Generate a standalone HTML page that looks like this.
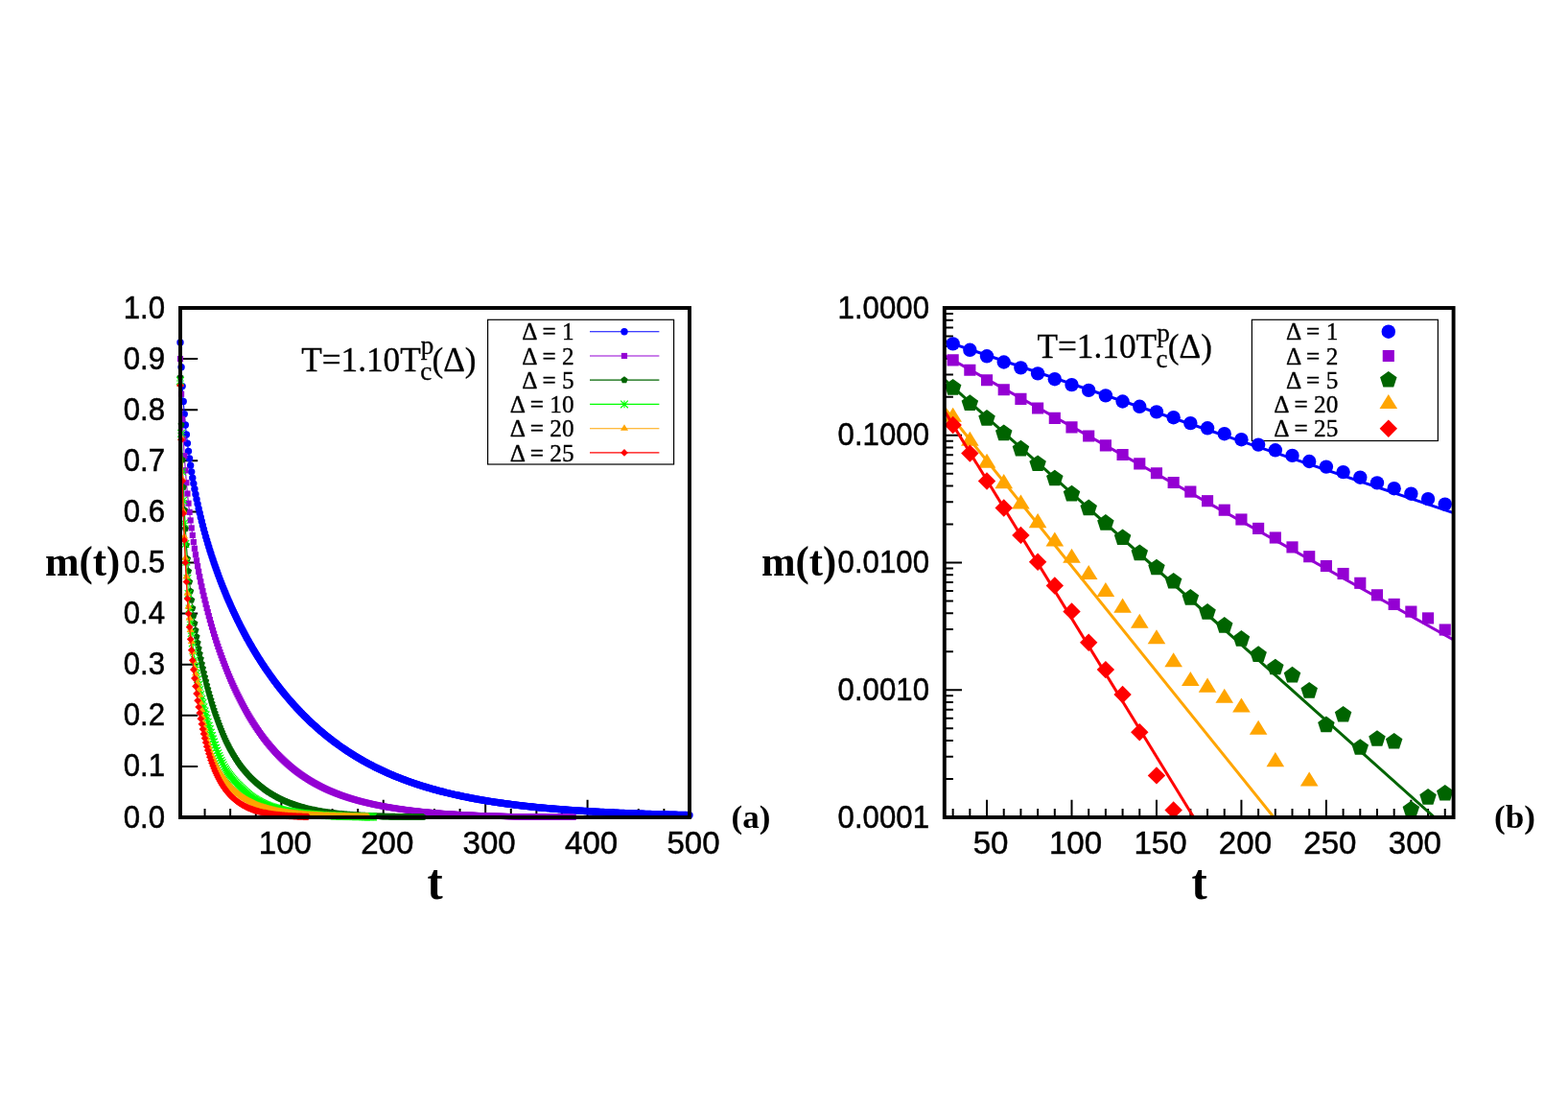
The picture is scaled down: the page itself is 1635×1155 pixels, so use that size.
<!DOCTYPE html>
<html lang="en"><head><meta charset="utf-8"><title>m(t) relaxation</title>
<style>
html,body{margin:0;padding:0;background:#fff;}
body{width:1635px;height:1155px;overflow:hidden;}
svg{display:block;}
.h{font-family:"Liberation Sans",sans-serif;}
.s{font-family:"Liberation Serif",serif;}
.sb{font-family:"Liberation Serif",serif;font-weight:bold;}
</style></head><body>
<svg width="1635" height="1155" viewBox="0 0 1635 1155">
<rect width="1635" height="1155" fill="#fff"/>
<defs>
<marker id="ab" markerUnits="userSpaceOnUse" markerWidth="14.36" markerHeight="14.36" viewBox="-7.18 -7.18 14.36 14.36" refX="0" refY="0" overflow="visible"><path d="M-3.7,0a3.7,3.7 0 1,0 7.4,0a3.7,3.7 0 1,0 -7.4,0z" fill="#0000ff"/></marker>
<marker id="ap" markerUnits="userSpaceOnUse" markerWidth="12.68" markerHeight="12.68" viewBox="-6.34 -6.34 12.68 12.68" refX="0" refY="0" overflow="visible"><path d="M-3.1,-3.1h6.2v6.2h-6.2z" fill="#9400d3"/></marker>
<marker id="ag" markerUnits="userSpaceOnUse" markerWidth="14.64" markerHeight="14.64" viewBox="-7.32 -7.32 14.64 14.64" refX="0" refY="0" overflow="visible"><path d="M0,-3.8L-3.61,-1.17L-2.23,3.07L2.23,3.07L3.61,-1.17z" fill="#006400"/></marker>
<marker id="al" markerUnits="userSpaceOnUse" markerWidth="14.78" markerHeight="14.78" viewBox="-7.39 -7.39 14.78 14.78" refX="0" refY="0" overflow="visible"><path d="M-3.85,0H3.85M0,-3.85V3.85M-3.85,-3.85L3.85,3.85M-3.85,3.85L3.85,-3.85" fill="none" stroke="#00ff00" stroke-width="1.1"/></marker>
<marker id="ao" markerUnits="userSpaceOnUse" markerWidth="15.2" markerHeight="15.2" viewBox="-7.6 -7.6 15.2 15.2" refX="0" refY="0" overflow="visible"><path d="M0,-4.48L-4,2L4,2z" fill="#ffa500"/></marker>
<marker id="ar" markerUnits="userSpaceOnUse" markerWidth="14.78" markerHeight="14.78" viewBox="-7.39 -7.39 14.78 14.78" refX="0" refY="0" overflow="visible"><path d="M0,-3.85L-3.85,0L0,3.85L3.85,0z" fill="#ff0000"/></marker>
<marker id="cb" markerUnits="userSpaceOnUse" markerWidth="24.16" markerHeight="24.16" viewBox="-12.08 -12.08 24.16 24.16" refX="0" refY="0" overflow="visible"><path d="M-7.2,0a7.2,7.2 0 1,0 14.4,0a7.2,7.2 0 1,0 -14.4,0z" fill="#0000ff"/></marker>
<marker id="cp" markerUnits="userSpaceOnUse" markerWidth="21" markerHeight="21" viewBox="-10.5 -10.5 21 21" refX="0" refY="0" overflow="visible"><path d="M-6.07,-6.07h12.14v12.14h-12.14z" fill="#9400d3"/></marker>
<marker id="cg" markerUnits="userSpaceOnUse" markerWidth="29.76" markerHeight="29.76" viewBox="-14.88 -14.88 29.76 29.76" refX="0" refY="0" overflow="visible"><path d="M0,-9.2L-8.75,-2.84L-5.41,7.44L5.41,7.44L8.75,-2.84z" fill="#006400"/></marker>
<marker id="co" markerUnits="userSpaceOnUse" markerWidth="30.04" markerHeight="30.04" viewBox="-15.02 -15.02 30.04 30.04" refX="0" refY="0" overflow="visible"><path d="M0,-10.42L-9.3,4.65L9.3,4.65z" fill="#ffa500"/></marker>
<marker id="cr" markerUnits="userSpaceOnUse" markerWidth="29.76" markerHeight="29.76" viewBox="-14.88 -14.88 29.76 29.76" refX="0" refY="0" overflow="visible"><path d="M0,-9.2L-9.2,0L0,9.2L9.2,0z" fill="#ff0000"/></marker>
<clipPath id="k1"><rect x="176" y="309" width="555" height="555"/></clipPath>
<clipPath id="k2"><rect x="984.8" y="321" width="530.8" height="531"/></clipPath>
<clipPath id="k3"><rect x="972.8" y="309" width="554.8" height="555"/></clipPath>
</defs>
<g id="ticks">
<path d="M188,852h18.2M188,798.9h18.2M188,745.8h18.2M188,692.7h18.2M188,639.6h18.2M188,586.5h18.2M188,533.4h18.2M188,480.3h18.2M188,427.2h18.2M188,374.1h18.2M188,321h18.2M213.54,852v-9.1M240.14,852v-9.1M266.75,852v-9.1M293.35,852v-18.2M319.95,852v-9.1M346.56,852v-9.1M373.16,852v-9.1M399.76,852v-18.2M426.36,852v-9.1M452.97,852v-9.1M479.57,852v-9.1M506.17,852v-18.2M532.78,852v-9.1M559.38,852v-9.1M585.98,852v-9.1M612.59,852v-18.2M639.19,852v-9.1M665.79,852v-9.1M692.4,852v-9.1" fill="none" stroke="#000" stroke-width="2"/>
<path d="M984.8,321h18.2M984.8,413.79h9.1M984.8,390.41h9.1M984.8,373.83h9.1M984.8,360.96h9.1M984.8,350.45h9.1M984.8,341.56h9.1M984.8,333.86h9.1M984.8,327.07h9.1M984.8,453.75h18.2M984.8,546.54h9.1M984.8,523.16h9.1M984.8,506.58h9.1M984.8,493.71h9.1M984.8,483.2h9.1M984.8,474.31h9.1M984.8,466.61h9.1M984.8,459.82h9.1M984.8,586.5h18.2M984.8,679.29h9.1M984.8,655.91h9.1M984.8,639.33h9.1M984.8,626.46h9.1M984.8,615.95h9.1M984.8,607.06h9.1M984.8,599.36h9.1M984.8,592.57h9.1M984.8,719.25h18.2M984.8,812.04h9.1M984.8,788.66h9.1M984.8,772.08h9.1M984.8,759.21h9.1M984.8,748.7h9.1M984.8,739.81h9.1M984.8,732.11h9.1M984.8,725.32h9.1M984.8,852h18.2M993.65,852v-9.1M1011.34,852v-9.1M1029.03,852v-18.2M1046.73,852v-9.1M1064.42,852v-9.1M1082.11,852v-9.1M1099.81,852v-9.1M1117.5,852v-18.2M1135.19,852v-9.1M1152.89,852v-9.1M1170.58,852v-9.1M1188.27,852v-9.1M1205.97,852v-18.2M1223.66,852v-9.1M1241.35,852v-9.1M1259.05,852v-9.1M1276.74,852v-9.1M1294.43,852v-18.2M1312.13,852v-9.1M1329.82,852v-9.1M1347.51,852v-9.1M1365.21,852v-9.1M1382.9,852v-18.2M1400.59,852v-9.1M1418.29,852v-9.1M1435.98,852v-9.1M1453.67,852v-9.1M1471.37,852v-18.2M1489.06,852v-9.1M1506.75,852v-9.1" fill="none" stroke="#000" stroke-width="2"/>
</g>
<g id="legend-a">
<rect x="508.6" y="333.3" width="194" height="150.7" fill="none" stroke="#000" stroke-width="1.2"/>
<text stroke="#000" stroke-width="0.35" class="s" font-size="25.25" text-anchor="end" x="598.6" y="354.3">Δ = 1</text>
<text stroke="#000" stroke-width="0.35" class="s" font-size="25.25" text-anchor="end" x="598.6" y="379.6">Δ = 2</text>
<text stroke="#000" stroke-width="0.35" class="s" font-size="25.25" text-anchor="end" x="598.6" y="404.7">Δ = 5</text>
<text stroke="#000" stroke-width="0.35" class="s" font-size="25.25" text-anchor="end" x="598.6" y="430">Δ = 10</text>
<text stroke="#000" stroke-width="0.35" class="s" font-size="25.25" text-anchor="end" x="598.6" y="455.3">Δ = 20</text>
<text stroke="#000" stroke-width="0.35" class="s" font-size="25.25" text-anchor="end" x="598.6" y="480.5">Δ = 25</text>
</g>
<g id="legend-b">
<rect x="1305.4" y="333.3" width="194" height="126.2" fill="none" stroke="#000" stroke-width="1.2"/>
<text stroke="#000" stroke-width="0.35" class="s" font-size="25.25" text-anchor="end" x="1395.3" y="354.3">Δ = 1</text>
<text stroke="#000" stroke-width="0.35" class="s" font-size="25.25" text-anchor="end" x="1395.3" y="379.6">Δ = 2</text>
<text stroke="#000" stroke-width="0.35" class="s" font-size="25.25" text-anchor="end" x="1395.3" y="404.7">Δ = 5</text>
<text stroke="#000" stroke-width="0.35" class="s" font-size="25.25" text-anchor="end" x="1395.3" y="430">Δ = 20</text>
<text stroke="#000" stroke-width="0.35" class="s" font-size="25.25" text-anchor="end" x="1395.3" y="455.3">Δ = 25</text>
</g>
<g id="annotations">
<text class="s" transform="translate(314.16,386.5) scale(1.007,1)" font-size="35" stroke="#000" stroke-width="0.3">T=1.10T<tspan x="123.84" dy="-17.5" font-size="26.95">p</tspan><tspan x="123.25" dy="26.9" font-size="26.95">c</tspan><tspan x="135.35" dy="-9.4">(Δ)</tspan></text>
<text class="s" transform="translate(1081.46,373.1) scale(1.007,1)" font-size="35" stroke="#000" stroke-width="0.3">T=1.10T<tspan x="123.84" dy="-17.5" font-size="26.95">p</tspan><tspan x="123.25" dy="26.9" font-size="26.95">c</tspan><tspan x="135.35" dy="-9.4">(Δ)</tspan></text>
</g>
<g id="data-a" clip-path="url(#k1)">
<polyline points="188,357.07 189.06,382.76 190.13,402.58 191.19,418.45 192.26,431.62 193.32,442.96 194.38,453.01 195.45,462.08 196.51,470.36 197.58,478.01 198.64,485.14 199.71,491.83 200.77,498.13 201.83,504.11 202.9,509.79 203.96,515.2 205.03,520.39 206.09,525.36 207.15,530.13 208.22,534.74 209.28,539.18 210.35,543.47 211.41,547.63 212.47,551.66 213.54,555.58 214.6,559.39 215.67,563.1 216.73,566.71 217.8,570.23 218.86,573.68 219.92,577.04 220.99,580.33 222.05,583.55 223.12,586.7 224.18,589.79 225.24,592.82 226.31,595.79 227.37,598.71 228.44,601.58 229.5,604.4 230.57,607.17 231.63,609.9 232.69,612.58 233.76,615.22 234.82,617.82 235.89,620.38 236.95,622.9 238.01,625.38 239.08,627.82 240.14,630.23 241.21,632.61 242.27,634.95 243.33,637.26 244.4,639.54 245.46,641.79 246.53,644.01 247.59,646.19 248.66,648.35 249.72,650.48 250.78,652.59 251.85,654.66 252.91,656.71 253.98,658.74 255.04,660.74 256.1,662.71 257.17,664.66 258.23,666.59 259.3,668.5 260.36,670.38 261.42,672.24 262.49,674.07 263.55,675.89 264.62,677.69 265.68,679.46 266.75,681.21 267.81,682.95 268.87,684.66 269.94,686.36 271,688.03 272.07,689.69 273.13,691.33 274.19,692.95 275.26,694.56 276.32,696.14 277.39,697.71 278.45,699.27 279.52,700.8 280.58,702.32 281.64,703.83 282.71,705.31 283.77,706.78 284.84,708.24 285.9,709.68 286.96,711.11 288.03,712.52 289.09,713.91 290.16,715.3 291.22,716.66 292.28,718.02 293.35,719.36 294.41,720.68 295.48,722 296.54,723.3 297.61,724.58 298.67,725.86 299.73,727.12 300.8,728.36 301.86,729.6 302.93,730.82 303.99,732.03 305.05,733.23 306.12,734.42 307.18,735.59 308.25,736.76 309.31,737.91 310.37,739.05 311.44,740.18 312.5,741.3 313.57,742.4 314.63,743.5 315.7,744.58 316.76,745.66 317.82,746.72 318.89,747.78 319.95,748.82 321.02,749.85 322.08,750.88 323.14,751.89 324.21,752.89 325.27,753.89 326.34,754.87 327.4,755.85 328.46,756.81 329.53,757.77 330.59,758.71 331.66,759.65 332.72,760.58 333.79,761.5 334.85,762.41 335.91,763.31 336.98,764.2 338.04,765.08 339.11,765.96 340.17,766.83 341.23,767.68 342.3,768.53 343.36,769.37 344.43,770.21 345.49,771.03 346.56,771.85 347.62,772.65 348.68,773.45 349.75,774.25 350.81,775.03 351.88,775.81 352.94,776.58 354,777.34 355.07,778.09 356.13,778.84 357.2,779.58 358.26,780.31 359.32,781.03 360.39,781.75 361.45,782.46 362.52,783.16 363.58,783.86 364.65,784.55 365.71,785.23 366.77,785.9 367.84,786.57 368.9,787.23 369.97,787.89 371.03,788.54 372.09,789.18 373.16,789.82 374.22,790.44 375.29,791.07 376.35,791.68 377.41,792.29 378.48,792.9 379.54,793.5 380.61,794.09 381.67,794.68 382.74,795.26 383.8,795.83 384.86,796.4 385.93,796.96 386.99,797.52 388.06,798.07 389.12,798.62 390.18,799.16 391.25,799.69 392.31,800.22 393.38,800.75 394.44,801.27 395.51,801.78 396.57,802.29 397.63,802.79 398.7,803.29 399.76,803.79 400.83,804.27 401.89,804.76 402.95,805.24 404.02,805.71 405.08,806.18 406.15,806.64 407.21,807.1 408.27,807.56 409.34,808.01 410.4,808.46 411.47,808.9 412.53,809.33 413.6,809.77 414.66,810.19 415.72,810.62 416.79,811.04 417.85,811.45 418.92,811.86 419.98,812.27 421.04,812.67 422.11,813.07 423.17,813.47 424.24,813.86 425.3,814.24 426.36,814.62 427.43,815 428.49,815.38 429.56,815.75 430.62,816.12 431.69,816.48 432.75,816.84 433.81,817.2 434.88,817.55 435.94,817.9 437.01,818.24 438.07,818.59 439.13,818.92 440.2,819.26 441.26,819.59 442.33,819.92 443.39,820.24 444.45,820.57 445.52,820.88 446.58,821.2 447.65,821.51 448.71,821.82 449.78,822.12 450.84,822.43 451.9,822.73 452.97,823.02 454.03,823.32 455.1,823.61 456.16,823.89 457.22,824.18 458.29,824.46 459.35,824.74 460.42,825.01 461.48,825.29 462.55,825.56 463.61,825.83 464.67,826.09 465.74,826.35 466.8,826.61 467.87,826.87 468.93,827.12 469.99,827.37 471.06,827.62 472.12,827.87 473.19,828.11 474.25,828.35 475.31,828.59 476.38,828.83 477.44,829.06 478.51,829.3 479.57,829.53 480.64,829.75 481.7,829.98 482.76,830.2 483.83,830.42 484.89,830.64 485.96,830.85 487.02,831.07 488.08,831.28 489.15,831.49 490.21,831.7 491.28,831.9 492.34,832.1 493.4,832.3 494.47,832.5 495.53,832.7 496.6,832.89 497.66,833.09 498.73,833.28 499.79,833.47 500.85,833.65 501.92,833.84 502.98,834.02 504.05,834.2 505.11,834.38 506.17,834.56 507.24,834.74 508.3,834.91 509.37,835.08 510.43,835.25 511.49,835.42 512.56,835.59 513.62,835.75 514.69,835.92 515.75,836.08 516.82,836.24 517.88,836.4 518.94,836.56 520.01,836.71 521.07,836.87 522.14,837.02 523.2,837.17 524.26,837.32 525.33,837.47 526.39,837.61 527.46,837.76 528.52,837.9 529.59,838.04 530.65,838.18 531.71,838.32 532.78,838.46 533.84,838.59 534.91,838.73 535.97,838.86 537.03,838.99 538.1,839.13 539.16,839.25 540.23,839.38 541.29,839.51 542.35,839.63 543.42,839.76 544.48,839.88 545.55,840 546.61,840.12 547.68,840.24 548.74,840.36 549.8,840.48 550.87,840.59 551.93,840.71 553,840.82 554.06,840.93 555.12,841.04 556.19,841.15 557.25,841.26 558.32,841.37 559.38,841.48 560.44,841.58 561.51,841.69 562.57,841.79 563.64,841.89 564.7,841.99 565.77,842.09 566.83,842.19 567.89,842.29 568.96,842.39 570.02,842.48 571.09,842.58 572.15,842.67 573.21,842.77 574.28,842.86 575.34,842.95 576.41,843.04 577.47,843.13 578.54,843.22 579.6,843.31 580.66,843.4 581.73,843.48 582.79,843.57 583.86,843.65 584.92,843.73 585.98,843.82 587.05,843.9 588.11,843.98 589.18,844.06 590.24,844.14 591.3,844.22 592.37,844.29 593.43,844.37 594.5,844.45 595.56,844.52 596.63,844.6 597.69,844.67 598.75,844.74 599.82,844.82 600.88,844.89 601.95,844.96 603.01,845.03 604.07,845.1 605.14,845.17 606.2,845.24 607.27,845.3 608.33,845.37 609.39,845.44 610.46,845.5 611.52,845.57 612.59,845.63 613.65,845.69 614.72,845.76 615.78,845.82 616.84,845.88 617.91,845.94 618.97,846 620.04,846.06 621.1,846.12 622.16,846.18 623.23,846.24 624.29,846.29 625.36,846.35 626.42,846.41 627.48,846.46 628.55,846.52 629.61,846.57 630.68,846.63 631.74,846.68 632.81,846.73 633.87,846.78 634.93,846.84 636,846.89 637.06,846.94 638.13,846.99 639.19,847.04 640.25,847.09 641.32,847.14 642.38,847.18 643.45,847.23 644.51,847.28 645.58,847.33 646.64,847.37 647.7,847.42 648.77,847.46 649.83,847.51 650.9,847.55 651.96,847.6 653.02,847.64 654.09,847.68 655.15,847.73 656.22,847.77 657.28,847.81 658.34,847.85 659.41,847.89 660.47,847.93 661.54,847.97 662.6,848.01 663.67,848.05 664.73,848.09 665.79,848.13 666.86,848.17 667.92,848.21 668.99,848.24 670.05,848.28 671.11,848.32 672.18,848.35 673.24,848.39 674.31,848.43 675.37,848.46 676.43,848.5 677.5,848.53 678.56,848.56 679.63,848.6 680.69,848.63 681.76,848.67 682.82,848.7 683.88,848.73 684.95,848.76 686.01,848.8 687.08,848.83 688.14,848.86 689.2,848.89 690.27,848.92 691.33,848.95 692.4,848.98 693.46,849.01 694.53,849.04 695.59,849.07 696.65,849.1 697.72,849.13 698.78,849.15 699.85,849.18 700.91,849.21 701.97,849.24 703.04,849.26 704.1,849.29 705.17,849.32 706.23,849.34 707.29,849.37 708.36,849.4 709.42,849.42 710.49,849.45 711.55,849.47 712.62,849.5 713.68,849.52 714.74,849.55 715.81,849.57 716.87,849.59 717.94,849.62 719,849.64" fill="none" stroke="#0000ff" stroke-width="1.1" marker-start="url(#ab)" marker-mid="url(#ab)" marker-end="url(#ab)"/>
<polyline points="188,374.11 189.06,410.71 190.13,436.82 191.19,457.6 192.26,475.21 193.32,490.29 194.38,503.23 195.45,514.56 196.51,524.69 197.58,533.92 198.64,542.45 199.71,550.43 200.77,557.95 201.83,565.05 202.9,571.79 203.96,578.2 205.03,584.32 206.09,590.17 207.15,595.78 208.22,601.17 209.28,606.36 210.35,611.36 211.41,616.19 212.47,620.86 213.54,625.38 214.6,629.76 215.67,634.01 216.73,638.13 217.8,642.14 218.86,646.04 219.92,649.84 220.99,653.54 222.05,657.15 223.12,660.67 224.18,664.1 225.24,667.45 226.31,670.73 227.37,673.93 228.44,677.07 229.5,680.13 230.57,683.13 231.63,686.07 232.69,688.94 233.76,691.76 234.82,694.53 235.89,697.23 236.95,699.89 238.01,702.49 239.08,705.05 240.14,707.56 241.21,710.02 242.27,712.44 243.33,714.81 244.4,717.14 245.46,719.43 246.53,721.68 247.59,723.89 248.66,726.06 249.72,728.19 250.78,730.29 251.85,732.35 252.91,734.38 253.98,736.37 255.04,738.33 256.1,740.25 257.17,742.14 258.23,744 259.3,745.83 260.36,747.63 261.42,749.39 262.49,751.13 263.55,752.83 264.62,754.51 265.68,756.16 266.75,757.78 267.81,759.37 268.87,760.94 269.94,762.48 271,763.99 272.07,765.48 273.13,766.94 274.19,768.37 275.26,769.78 276.32,771.17 277.39,772.54 278.45,773.88 279.52,775.19 280.58,776.49 281.64,777.76 282.71,779.01 283.77,780.24 284.84,781.45 285.9,782.64 286.96,783.81 288.03,784.95 289.09,786.08 290.16,787.19 291.22,788.28 292.28,789.35 293.35,790.41 294.41,791.44 295.48,792.46 296.54,793.46 297.61,794.44 298.67,795.41 299.73,796.36 300.8,797.29 301.86,798.21 302.93,799.11 303.99,800 305.05,800.87 306.12,801.72 307.18,802.57 308.25,803.39 309.31,804.21 310.37,805.01 311.44,805.79 312.5,806.57 313.57,807.32 314.63,808.07 315.7,808.81 316.76,809.53 317.82,810.24 318.89,810.93 319.95,811.62 321.02,812.29 322.08,812.95 323.14,813.6 324.21,814.24 325.27,814.87 326.34,815.49 327.4,816.1 328.46,816.7 329.53,817.28 330.59,817.86 331.66,818.43 332.72,818.99 333.79,819.54 334.85,820.08 335.91,820.61 336.98,821.13 338.04,821.64 339.11,822.14 340.17,822.64 341.23,823.13 342.3,823.6 343.36,824.07 344.43,824.54 345.49,824.99 346.56,825.44 347.62,825.88 348.68,826.31 349.75,826.74 350.81,827.15 351.88,827.56 352.94,827.97 354,828.36 355.07,828.76 356.13,829.14 357.2,829.52 358.26,829.89 359.32,830.25 360.39,830.61 361.45,830.96 362.52,831.31 363.58,831.65 364.65,831.99 365.71,832.32 366.77,832.64 367.84,832.96 368.9,833.27 369.97,833.58 371.03,833.89 372.09,834.19 373.16,834.48 374.22,834.77 375.29,835.06 376.35,835.34 377.41,835.61 378.48,835.89 379.54,836.15 380.61,836.42 381.67,836.68 382.74,836.93 383.8,837.18 384.86,837.43 385.93,837.67 386.99,837.91 388.06,838.15 389.12,838.38 390.18,838.61 391.25,838.83 392.31,839.06 393.38,839.27 394.44,839.49 395.51,839.7 396.57,839.91 397.63,840.11 398.7,840.31 399.76,840.51 400.83,840.71 401.89,840.9 402.95,841.09 404.02,841.28 405.08,841.46 406.15,841.64 407.21,841.82 408.27,842 409.34,842.17 410.4,842.34 411.47,842.51 412.53,842.67 413.6,842.84 414.66,843 415.72,843.15 416.79,843.31 417.85,843.46 418.92,843.61 419.98,843.76 421.04,843.9 422.11,844.05 423.17,844.19 424.24,844.33 425.3,844.46 426.36,844.6 427.43,844.73 428.49,844.86 429.56,844.99 430.62,845.12 431.69,845.24 432.75,845.36 433.81,845.48 434.88,845.6 435.94,845.72 437.01,845.83 438.07,845.95 439.13,846.06 440.2,846.17 441.26,846.27 442.33,846.38 443.39,846.48 444.45,846.59 445.52,846.69 446.58,846.79 447.65,846.88 448.71,846.98 449.78,847.07 450.84,847.17 451.9,847.26 452.97,847.35 454.03,847.44 455.1,847.52 456.16,847.61 457.22,847.69 458.29,847.78 459.35,847.86 460.42,847.94 461.48,848.02 462.55,848.09 463.61,848.17 464.67,848.24 465.74,848.32 466.8,848.39 467.87,848.46 468.93,848.53 469.99,848.6 471.06,848.67 472.12,848.73 473.19,848.8 474.25,848.86 475.31,848.92 476.38,848.99 477.44,849.05 478.51,849.11 479.57,849.17 480.64,849.22 481.7,849.28 482.76,849.33 483.83,849.39 484.89,849.44 485.96,849.5 487.02,849.55 488.08,849.6 489.15,849.65 490.21,849.7 491.28,849.75 492.34,849.79 493.4,849.84 494.47,849.89 495.53,849.93 496.6,849.98 497.66,850.02 498.73,850.07 499.79,850.11 500.85,850.15 501.92,850.19 502.98,850.23 504.05,850.27 505.11,850.31 506.17,850.35 507.24,850.39 508.3,850.43 509.37,850.46 510.43,850.5 511.49,850.53 512.56,850.57 513.62,850.6 514.69,850.64 515.75,850.67 516.82,850.7 517.88,850.74 518.94,850.77 520.01,850.8 521.07,850.83 522.14,850.86 523.2,850.89 524.26,850.92 525.33,850.95 526.39,850.98 527.46,851 528.52,851.03 529.59,851.06 530.65,851.08 531.71,851.11 532.78,851.13 533.84,851.16 534.91,851.18 535.97,851.21 537.03,851.23 538.1,851.25 539.16,851.27 540.23,851.3 541.29,851.32 542.35,851.34 543.42,851.36 544.48,851.38 545.55,851.4 546.61,851.41 547.68,851.43 548.74,851.45 549.8,851.47 550.87,851.48 551.93,851.5 553,851.51 554.06,851.53 555.12,851.54 556.19,851.56 557.25,851.57 558.32,851.58 559.38,851.59 560.44,851.61 561.51,851.62 562.57,851.63 563.64,851.64 564.7,851.65 565.77,851.66 566.83,851.67 567.89,851.68 568.96,851.68 570.02,851.69 571.09,851.7 572.15,851.71 573.21,851.71 574.28,851.72 575.34,851.73 576.41,851.73 577.47,851.74 578.54,851.74 579.6,851.75 580.66,851.75 581.73,851.76 582.79,851.76 583.86,851.77 584.92,851.77 585.98,851.77 587.05,851.78 588.11,851.78 589.18,851.78 590.24,851.78 591.3,851.79 592.37,851.79 593.43,851.79 594.5,851.79 595.56,851.79 596.63,851.79 597.69,851.79" fill="none" stroke="#9400d3" stroke-width="1.1" marker-start="url(#ap)" marker-mid="url(#ap)" marker-end="url(#ap)"/>
<polyline points="188,393.29 189.06,442.76 190.13,479.32 191.19,508.04 192.26,531.5 193.32,551.16 194.38,567.96 195.45,582.54 196.51,595.3 197.58,606.45 198.64,616.29 199.71,625.41 200.77,633.97 201.83,642.04 202.9,649.69 203.96,656.89 205.03,663.65 206.09,669.97 207.15,675.89 208.22,681.47 209.28,686.77 210.35,691.81 211.41,696.64 212.47,701.28 213.54,705.74 214.6,710.04 215.67,714.19 216.73,718.21 217.8,722.1 218.86,725.87 219.92,729.53 220.99,733.07 222.05,736.51 223.12,739.85 224.18,743.09 225.24,746.23 226.31,749.29 227.37,752.26 228.44,755.15 229.5,757.94 230.57,760.65 231.63,763.27 232.69,765.8 233.76,768.25 234.82,770.61 235.89,772.9 236.95,775.11 238.01,777.25 239.08,779.31 240.14,781.31 241.21,783.24 242.27,785.11 243.33,786.92 244.4,788.67 245.46,790.37 246.53,792.02 247.59,793.61 248.66,795.16 249.72,796.65 250.78,798.11 251.85,799.52 252.91,800.88 253.98,802.2 255.04,803.48 256.1,804.72 257.17,805.92 258.23,807.09 259.3,808.23 260.36,809.34 261.42,810.42 262.49,811.47 263.55,812.5 264.62,813.5 265.68,814.48 266.75,815.44 267.81,816.37 268.87,817.28 269.94,818.17 271,819.04 272.07,819.89 273.13,820.72 274.19,821.53 275.26,822.33 276.32,823.1 277.39,823.86 278.45,824.6 279.52,825.32 280.58,826.03 281.64,826.72 282.71,827.39 283.77,828.04 284.84,828.68 285.9,829.3 286.96,829.91 288.03,830.5 289.09,831.07 290.16,831.64 291.22,832.18 292.28,832.72 293.35,833.24 294.41,833.74 295.48,834.24 296.54,834.72 297.61,835.19 298.67,835.65 299.73,836.09 300.8,836.53 301.86,836.95 302.93,837.37 303.99,837.77 305.05,838.16 306.12,838.54 307.18,838.92 308.25,839.28 309.31,839.63 310.37,839.98 311.44,840.31 312.5,840.64 313.57,840.96 314.63,841.27 315.7,841.57 316.76,841.87 317.82,842.15 318.89,842.43 319.95,842.71 321.02,842.97 322.08,843.23 323.14,843.48 324.21,843.72 325.27,843.96 326.34,844.19 327.4,844.42 328.46,844.64 329.53,844.85 330.59,845.06 331.66,845.26 332.72,845.46 333.79,845.65 334.85,845.84 335.91,846.02 336.98,846.2 338.04,846.37 339.11,846.53 340.17,846.7 341.23,846.86 342.3,847.01 343.36,847.16 344.43,847.3 345.49,847.45 346.56,847.58 347.62,847.72 348.68,847.85 349.75,847.97 350.81,848.09 351.88,848.21 352.94,848.33 354,848.44 355.07,848.55 356.13,848.66 357.2,848.76 358.26,848.86 359.32,848.96 360.39,849.05 361.45,849.14 362.52,849.23 363.58,849.32 364.65,849.4 365.71,849.49 366.77,849.57 367.84,849.64 368.9,849.72 369.97,849.79 371.03,849.86 372.09,849.93 373.16,849.99 374.22,850.06 375.29,850.12 376.35,850.18 377.41,850.24 378.48,850.3 379.54,850.35 380.61,850.41 381.67,850.46 382.74,850.51 383.8,850.56 384.86,850.6 385.93,850.65 386.99,850.69 388.06,850.74 389.12,850.78 390.18,850.82 391.25,850.86 392.31,850.9 393.38,850.93 394.44,850.97 395.51,851 396.57,851.04 397.63,851.07 398.7,851.1 399.76,851.13 400.83,851.16 401.89,851.19 402.95,851.22 404.02,851.24 405.08,851.27 406.15,851.3 407.21,851.32 408.27,851.34 409.34,851.37 410.4,851.39 411.47,851.41 412.53,851.43 413.6,851.45 414.66,851.47 415.72,851.49 416.79,851.5 417.85,851.52 418.92,851.54 419.98,851.56 421.04,851.57 422.11,851.59 423.17,851.6 424.24,851.62 425.3,851.63 426.36,851.64 427.43,851.65 428.49,851.67 429.56,851.68 430.62,851.69 431.69,851.7 432.75,851.71 433.81,851.72 434.88,851.73 435.94,851.74 437.01,851.75 438.07,851.76 439.13,851.77 440.2,851.78 441.26,851.79" fill="none" stroke="#006400" stroke-width="1.1" marker-start="url(#ag)" marker-mid="url(#ag)" marker-end="url(#ag)"/>
<polyline points="188,396.95 189.06,451.8 190.13,491.81 191.19,521.73 192.26,545.31 193.32,566.97 194.38,585.65 195.45,602.94 196.51,619.07 197.58,634.46 198.64,648.19 199.71,660.09 200.77,670.41 201.83,679.59 202.9,687.93 203.96,695.41 205.03,702.13 206.09,708.23 207.15,713.85 208.22,719.07 209.28,723.98 210.35,728.63 211.41,733.06 212.47,737.31 213.54,741.4 214.6,745.35 215.67,749.19 216.73,752.96 217.8,756.64 218.86,760.23 219.92,763.72 220.99,767.11 222.05,770.39 223.12,773.57 224.18,776.65 225.24,779.62 226.31,782.48 227.37,785.24 228.44,787.89 229.5,790.45 230.57,792.91 231.63,795.26 232.69,797.53 233.76,799.69 234.82,801.61 235.89,803.34 236.95,804.94 238.01,806.44 239.08,807.86 240.14,809.22 241.21,810.53 242.27,811.79 243.33,813.02 244.4,814.21 245.46,815.38 246.53,816.52 247.59,817.64 248.66,818.74 249.72,819.82 250.78,820.88 251.85,821.92 252.91,822.94 253.98,823.95 255.04,824.94 256.1,825.91 257.17,826.84 258.23,827.73 259.3,828.59 260.36,829.42 261.42,830.22 262.49,830.98 263.55,831.72 264.62,832.43 265.68,833.11 266.75,833.77 267.81,834.4 268.87,835.01 269.94,835.59 271,836.15 272.07,836.7 273.13,837.22 274.19,837.72 275.26,838.21 276.32,838.67 277.39,839.12 278.45,839.56 279.52,839.97 280.58,840.38 281.64,840.76 282.71,841.14 283.77,841.5 284.84,841.84 285.9,842.18 286.96,842.5 288.03,842.81 289.09,843.11 290.16,843.4 291.22,843.68 292.28,843.94 293.35,844.2 294.41,844.45 295.48,844.69 296.54,844.93 297.61,845.15 298.67,845.37 299.73,845.58 300.8,845.78 301.86,845.97 302.93,846.16 303.99,846.35 305.05,846.52 306.12,846.69 307.18,846.86 308.25,847.02 309.31,847.17 310.37,847.32 311.44,847.46 312.5,847.6 313.57,847.74 314.63,847.87 315.7,847.99 316.76,848.11 317.82,848.23 318.89,848.35 319.95,848.46 321.02,848.56 322.08,848.67 323.14,848.77 324.21,848.86 325.27,848.96 326.34,849.05 327.4,849.14 328.46,849.22 329.53,849.3 330.59,849.38 331.66,849.46 332.72,849.54 333.79,849.61 334.85,849.68 335.91,849.75 336.98,849.82 338.04,849.88 339.11,849.94 340.17,850 341.23,850.06 342.3,850.12 343.36,850.17 344.43,850.23 345.49,850.28 346.56,850.33 347.62,850.38 348.68,850.42 349.75,850.47 350.81,850.51 351.88,850.56 352.94,850.6 354,850.64 355.07,850.68 356.13,850.72 357.2,850.75 358.26,850.79 359.32,850.82 360.39,850.86 361.45,850.89 362.52,850.92 363.58,850.95 364.65,850.98 365.71,851.01 366.77,851.04 367.84,851.07 368.9,851.1 369.97,851.12 371.03,851.15 372.09,851.17 373.16,851.19 374.22,851.22 375.29,851.24 376.35,851.26 377.41,851.28 378.48,851.3 379.54,851.32 380.61,851.34 381.67,851.36 382.74,851.38 383.8,851.4 384.86,851.41 385.93,851.43 386.99,851.45 388.06,851.46 389.12,851.48" fill="none" stroke="#00ff00" stroke-width="1.1" marker-start="url(#al)" marker-mid="url(#al)" marker-end="url(#al)"/>
<polyline points="188,400.63 189.06,456.54 190.13,499.37 191.19,532.81 192.26,559.46 193.32,581.77 194.38,601.29 195.45,618.79 196.51,632.39 197.58,644.57 198.64,657.06 199.71,668.9 200.77,679.7 201.83,689.23 202.9,696.59 203.96,702.35 205.03,707.45 206.09,712.53 207.15,718.21 208.22,724.83 209.28,732.39 210.35,740.35 211.41,747.85 212.47,754.2 213.54,759.75 214.6,764.82 215.67,769.56 216.73,774.04 217.8,778.26 218.86,781.94 219.92,785.16 220.99,788.08 222.05,790.79 223.12,793.32 224.18,795.7 225.24,797.96 226.31,800.1 227.37,802.09 228.44,803.93 229.5,805.69 230.57,807.37 231.63,808.99 232.69,810.55 233.76,812.05 234.82,813.49 235.89,814.88 236.95,816.22 238.01,817.5 239.08,818.74 240.14,819.93 241.21,821.08 242.27,822.18 243.33,823.24 244.4,824.26 245.46,825.25 246.53,826.19 247.59,827.1 248.66,827.98 249.72,828.82 250.78,829.64 251.85,830.42 252.91,831.17 253.98,831.9 255.04,832.6 256.1,833.27 257.17,833.92 258.23,834.54 259.3,835.14 260.36,835.72 261.42,836.28 262.49,836.82 263.55,837.34 264.62,837.83 265.68,838.32 266.75,838.78 267.81,839.23 268.87,839.66 269.94,840.07 271,840.47 272.07,840.86 273.13,841.23 274.19,841.59 275.26,841.94 276.32,842.27 277.39,842.59 278.45,842.9 279.52,843.2 280.58,843.49 281.64,843.77 282.71,844.04 283.77,844.3 284.84,844.55 285.9,844.79 286.96,845.02 288.03,845.25 289.09,845.46 290.16,845.67 291.22,845.88 292.28,846.07 293.35,846.26 294.41,846.44 295.48,846.62 296.54,846.79 297.61,846.95 298.67,847.11 299.73,847.27 300.8,847.41 301.86,847.56 302.93,847.7 303.99,847.83 305.05,847.96 306.12,848.08 307.18,848.2 308.25,848.32 309.31,848.43 310.37,848.54 311.44,848.65 312.5,848.75 313.57,848.85 314.63,848.94 315.7,849.04 316.76,849.13 317.82,849.21 318.89,849.3 319.95,849.38 321.02,849.45 322.08,849.53 323.14,849.6 324.21,849.67 325.27,849.74 326.34,849.81 327.4,849.87 328.46,849.94 329.53,850 330.59,850.05 331.66,850.11 332.72,850.17 333.79,850.22 334.85,850.27 335.91,850.32 336.98,850.37 338.04,850.41 339.11,850.46 340.17,850.5 341.23,850.55 342.3,850.59 343.36,850.63 344.43,850.67 345.49,850.7 346.56,850.74 347.62,850.77 348.68,850.81 349.75,850.84 350.81,850.87 351.88,850.9 352.94,850.93 354,850.96 355.07,850.99 356.13,851.02 357.2,851.05 358.26,851.07 359.32,851.1 360.39,851.12 361.45,851.15 362.52,851.17 363.58,851.19 364.65,851.22 365.71,851.24 366.77,851.26 367.84,851.28 368.9,851.3 369.97,851.32 371.03,851.34 372.09,851.35 373.16,851.37 374.22,851.39 375.29,851.41 376.35,851.42 377.41,851.44 378.48,851.45 379.54,851.47 380.61,851.48 381.67,851.5 382.74,851.51 383.8,851.52" fill="none" stroke="#ffa500" stroke-width="1.1" marker-start="url(#ao)" marker-mid="url(#ao)" marker-end="url(#ao)"/>
<polyline points="188,401.67 189.06,458.59 190.13,501.45 191.19,535.36 192.26,563.07 193.32,586.4 194.38,606.5 195.45,624.12 196.51,639.74 197.58,653.7 198.64,666.28 199.71,677.71 200.77,688.29 201.83,698.04 202.9,707.05 203.96,715.39 205.03,723.12 206.09,730.3 207.15,737.01 208.22,743.28 209.28,749.17 210.35,754.74 211.41,760 212.47,764.96 213.54,769.62 214.6,774.02 215.67,778.15 216.73,782.05 217.8,785.71 218.86,789.16 219.92,792.4 220.99,795.46 222.05,798.35 223.12,801.07 224.18,803.63 225.24,806.05 226.31,808.33 227.37,810.48 228.44,812.52 229.5,814.46 230.57,816.29 231.63,818.03 232.69,819.67 233.76,821.24 234.82,822.72 235.89,824.13 236.95,825.47 238.01,826.73 239.08,827.93 240.14,829.06 241.21,830.14 242.27,831.16 243.33,832.13 244.4,833.06 245.46,833.94 246.53,834.78 247.59,835.58 248.66,836.34 249.72,837.07 250.78,837.76 251.85,838.43 252.91,839.06 253.98,839.66 255.04,840.24 256.1,840.78 257.17,841.31 258.23,841.81 259.3,842.28 260.36,842.74 261.42,843.17 262.49,843.58 263.55,843.97 264.62,844.34 265.68,844.7 266.75,845.04 267.81,845.36 268.87,845.67 269.94,845.96 271,846.25 272.07,846.51 273.13,846.77 274.19,847.01 275.26,847.24 276.32,847.47 277.39,847.68 278.45,847.88 279.52,848.07 280.58,848.25 281.64,848.43 282.71,848.59 283.77,848.75 284.84,848.91 285.9,849.05 286.96,849.19 288.03,849.32 289.09,849.45 290.16,849.57 291.22,849.68 292.28,849.79 293.35,849.89 294.41,849.99 295.48,850.09 296.54,850.18 297.61,850.26 298.67,850.35 299.73,850.43 300.8,850.5 301.86,850.57 302.93,850.64 303.99,850.7 305.05,850.77 306.12,850.82 307.18,850.88 308.25,850.93 309.31,850.98 310.37,851.03 311.44,851.08 312.5,851.12 313.57,851.16 314.63,851.2 315.7,851.24 316.76,851.28 317.82,851.31 318.89,851.35 319.95,851.38 321.02,851.41" fill="none" stroke="#ff0000" stroke-width="1.1" marker-start="url(#ar)" marker-mid="url(#ar)" marker-end="url(#ar)"/>
</g>
<g id="legend-a-samples">
<polyline points="615,345.7 651,345.7 687.4,345.7" fill="none" stroke="#0000ff" stroke-width="1.1"/>
<path d="M-3.7,0a3.7,3.7 0 1,0 7.4,0a3.7,3.7 0 1,0 -7.4,0z" transform="translate(651,345.7)" fill="#0000ff"/>
<polyline points="615,371 651,371 687.4,371" fill="none" stroke="#9400d3" stroke-width="1.1"/>
<path d="M-3.1,-3.1h6.2v6.2h-6.2z" transform="translate(651,371)" fill="#9400d3"/>
<polyline points="615,396.1 651,396.1 687.4,396.1" fill="none" stroke="#006400" stroke-width="1.1"/>
<path d="M0,-3.8L-3.61,-1.17L-2.23,3.07L2.23,3.07L3.61,-1.17z" transform="translate(651,396.1)" fill="#006400"/>
<polyline points="615,421.4 651,421.4 687.4,421.4" fill="none" stroke="#00ff00" stroke-width="1.1"/>
<path d="M-3.85,0H3.85M0,-3.85V3.85M-3.85,-3.85L3.85,3.85M-3.85,3.85L3.85,-3.85" transform="translate(651,421.4)" fill="none" stroke="#00ff00" stroke-width="1.1"/>
<polyline points="615,446.7 651,446.7 687.4,446.7" fill="none" stroke="#ffa500" stroke-width="1.1"/>
<path d="M0,-4.48L-4,2L4,2z" transform="translate(651,446.7)" fill="#ffa500"/>
<polyline points="615,471.9 651,471.9 687.4,471.9" fill="none" stroke="#ff0000" stroke-width="1.1"/>
<path d="M0,-3.85L-3.85,0L0,3.85L3.85,0z" transform="translate(651,471.9)" fill="#ff0000"/>
</g>
<g id="data-b">
<g fill="#0000ff" clip-path="url(#k3)">
<path d="M-7.2,0a7.2,7.2 0 1,0 14.4,0a7.2,7.2 0 1,0 -14.4,0z" transform="translate(993.65,358.4)"/>
<path d="M-7.2,0a7.2,7.2 0 1,0 14.4,0a7.2,7.2 0 1,0 -14.4,0z" transform="translate(1011.34,364.8)"/>
<path d="M-7.2,0a7.2,7.2 0 1,0 14.4,0a7.2,7.2 0 1,0 -14.4,0z" transform="translate(1029.03,371.3)"/>
<path d="M-7.2,0a7.2,7.2 0 1,0 14.4,0a7.2,7.2 0 1,0 -14.4,0z" transform="translate(1046.73,377.5)"/>
<path d="M-7.2,0a7.2,7.2 0 1,0 14.4,0a7.2,7.2 0 1,0 -14.4,0z" transform="translate(1064.42,383.4)"/>
<path d="M-7.2,0a7.2,7.2 0 1,0 14.4,0a7.2,7.2 0 1,0 -14.4,0z" transform="translate(1082.11,389.4)"/>
<path d="M-7.2,0a7.2,7.2 0 1,0 14.4,0a7.2,7.2 0 1,0 -14.4,0z" transform="translate(1099.81,395.2)"/>
<path d="M-7.2,0a7.2,7.2 0 1,0 14.4,0a7.2,7.2 0 1,0 -14.4,0z" transform="translate(1117.5,401.1)"/>
<path d="M-7.2,0a7.2,7.2 0 1,0 14.4,0a7.2,7.2 0 1,0 -14.4,0z" transform="translate(1135.19,406.9)"/>
<path d="M-7.2,0a7.2,7.2 0 1,0 14.4,0a7.2,7.2 0 1,0 -14.4,0z" transform="translate(1152.89,412.4)"/>
<path d="M-7.2,0a7.2,7.2 0 1,0 14.4,0a7.2,7.2 0 1,0 -14.4,0z" transform="translate(1170.58,418.5)"/>
<path d="M-7.2,0a7.2,7.2 0 1,0 14.4,0a7.2,7.2 0 1,0 -14.4,0z" transform="translate(1188.27,423.8)"/>
<path d="M-7.2,0a7.2,7.2 0 1,0 14.4,0a7.2,7.2 0 1,0 -14.4,0z" transform="translate(1205.97,429.4)"/>
<path d="M-7.2,0a7.2,7.2 0 1,0 14.4,0a7.2,7.2 0 1,0 -14.4,0z" transform="translate(1223.66,435.2)"/>
<path d="M-7.2,0a7.2,7.2 0 1,0 14.4,0a7.2,7.2 0 1,0 -14.4,0z" transform="translate(1241.35,441.1)"/>
<path d="M-7.2,0a7.2,7.2 0 1,0 14.4,0a7.2,7.2 0 1,0 -14.4,0z" transform="translate(1259.05,446.3)"/>
<path d="M-7.2,0a7.2,7.2 0 1,0 14.4,0a7.2,7.2 0 1,0 -14.4,0z" transform="translate(1276.74,452.2)"/>
<path d="M-7.2,0a7.2,7.2 0 1,0 14.4,0a7.2,7.2 0 1,0 -14.4,0z" transform="translate(1294.43,458.2)"/>
<path d="M-7.2,0a7.2,7.2 0 1,0 14.4,0a7.2,7.2 0 1,0 -14.4,0z" transform="translate(1312.13,463.6)"/>
<path d="M-7.2,0a7.2,7.2 0 1,0 14.4,0a7.2,7.2 0 1,0 -14.4,0z" transform="translate(1329.82,469.3)"/>
<path d="M-7.2,0a7.2,7.2 0 1,0 14.4,0a7.2,7.2 0 1,0 -14.4,0z" transform="translate(1347.51,474.9)"/>
<path d="M-7.2,0a7.2,7.2 0 1,0 14.4,0a7.2,7.2 0 1,0 -14.4,0z" transform="translate(1365.21,481)"/>
<path d="M-7.2,0a7.2,7.2 0 1,0 14.4,0a7.2,7.2 0 1,0 -14.4,0z" transform="translate(1382.9,486.6)"/>
<path d="M-7.2,0a7.2,7.2 0 1,0 14.4,0a7.2,7.2 0 1,0 -14.4,0z" transform="translate(1400.59,492.1)"/>
<path d="M-7.2,0a7.2,7.2 0 1,0 14.4,0a7.2,7.2 0 1,0 -14.4,0z" transform="translate(1418.29,497.7)"/>
<path d="M-7.2,0a7.2,7.2 0 1,0 14.4,0a7.2,7.2 0 1,0 -14.4,0z" transform="translate(1435.98,503.4)"/>
<path d="M-7.2,0a7.2,7.2 0 1,0 14.4,0a7.2,7.2 0 1,0 -14.4,0z" transform="translate(1453.67,509.2)"/>
<path d="M-7.2,0a7.2,7.2 0 1,0 14.4,0a7.2,7.2 0 1,0 -14.4,0z" transform="translate(1471.37,514.7)"/>
<path d="M-7.2,0a7.2,7.2 0 1,0 14.4,0a7.2,7.2 0 1,0 -14.4,0z" transform="translate(1489.06,520.1)"/>
<path d="M-7.2,0a7.2,7.2 0 1,0 14.4,0a7.2,7.2 0 1,0 -14.4,0z" transform="translate(1506.75,525.6)"/>
</g>
<line x1="984.8" y1="355.4" x2="1515.6" y2="534.7" stroke="#0000ff" stroke-width="3" clip-path="url(#k2)"/>
<g fill="#9400d3" clip-path="url(#k3)">
<path d="M-6.07,-6.07h12.14v12.14h-12.14z" transform="translate(993.65,375.4)"/>
<path d="M-6.07,-6.07h12.14v12.14h-12.14z" transform="translate(1011.34,385.8)"/>
<path d="M-6.07,-6.07h12.14v12.14h-12.14z" transform="translate(1029.03,396.2)"/>
<path d="M-6.07,-6.07h12.14v12.14h-12.14z" transform="translate(1046.73,406.2)"/>
<path d="M-6.07,-6.07h12.14v12.14h-12.14z" transform="translate(1064.42,415.9)"/>
<path d="M-6.07,-6.07h12.14v12.14h-12.14z" transform="translate(1082.11,425.5)"/>
<path d="M-6.07,-6.07h12.14v12.14h-12.14z" transform="translate(1099.81,435.9)"/>
<path d="M-6.07,-6.07h12.14v12.14h-12.14z" transform="translate(1117.5,445.4)"/>
<path d="M-6.07,-6.07h12.14v12.14h-12.14z" transform="translate(1135.19,454.5)"/>
<path d="M-6.07,-6.07h12.14v12.14h-12.14z" transform="translate(1152.89,464.4)"/>
<path d="M-6.07,-6.07h12.14v12.14h-12.14z" transform="translate(1170.58,474)"/>
<path d="M-6.07,-6.07h12.14v12.14h-12.14z" transform="translate(1188.27,483.4)"/>
<path d="M-6.07,-6.07h12.14v12.14h-12.14z" transform="translate(1205.97,493.2)"/>
<path d="M-6.07,-6.07h12.14v12.14h-12.14z" transform="translate(1223.66,503)"/>
<path d="M-6.07,-6.07h12.14v12.14h-12.14z" transform="translate(1241.35,512.6)"/>
<path d="M-6.07,-6.07h12.14v12.14h-12.14z" transform="translate(1259.05,522.2)"/>
<path d="M-6.07,-6.07h12.14v12.14h-12.14z" transform="translate(1276.74,531.7)"/>
<path d="M-6.07,-6.07h12.14v12.14h-12.14z" transform="translate(1294.43,541.5)"/>
<path d="M-6.07,-6.07h12.14v12.14h-12.14z" transform="translate(1312.13,550.9)"/>
<path d="M-6.07,-6.07h12.14v12.14h-12.14z" transform="translate(1329.82,560.5)"/>
<path d="M-6.07,-6.07h12.14v12.14h-12.14z" transform="translate(1347.51,570.4)"/>
<path d="M-6.07,-6.07h12.14v12.14h-12.14z" transform="translate(1365.21,580.2)"/>
<path d="M-6.07,-6.07h12.14v12.14h-12.14z" transform="translate(1382.9,590)"/>
<path d="M-6.07,-6.07h12.14v12.14h-12.14z" transform="translate(1400.59,598)"/>
<path d="M-6.07,-6.07h12.14v12.14h-12.14z" transform="translate(1418.29,607.8)"/>
<path d="M-6.07,-6.07h12.14v12.14h-12.14z" transform="translate(1435.98,620.3)"/>
<path d="M-6.07,-6.07h12.14v12.14h-12.14z" transform="translate(1453.67,629.9)"/>
<path d="M-6.07,-6.07h12.14v12.14h-12.14z" transform="translate(1471.37,637.6)"/>
<path d="M-6.07,-6.07h12.14v12.14h-12.14z" transform="translate(1489.06,644.4)"/>
<path d="M-6.07,-6.07h12.14v12.14h-12.14z" transform="translate(1506.75,656.5)"/>
</g>
<line x1="984.8" y1="370.5" x2="1515.6" y2="667" stroke="#9400d3" stroke-width="3" clip-path="url(#k2)"/>
<g fill="#006400" clip-path="url(#k3)">
<path d="M0,-9.2L-8.75,-2.84L-5.41,7.44L5.41,7.44L8.75,-2.84z" transform="translate(993.65,404.2)"/>
<path d="M0,-9.2L-8.75,-2.84L-5.41,7.44L5.41,7.44L8.75,-2.84z" transform="translate(1011.34,420.5)"/>
<path d="M0,-9.2L-8.75,-2.84L-5.41,7.44L5.41,7.44L8.75,-2.84z" transform="translate(1029.03,436.3)"/>
<path d="M0,-9.2L-8.75,-2.84L-5.41,7.44L5.41,7.44L8.75,-2.84z" transform="translate(1046.73,451.7)"/>
<path d="M0,-9.2L-8.75,-2.84L-5.41,7.44L5.41,7.44L8.75,-2.84z" transform="translate(1064.42,468)"/>
<path d="M0,-9.2L-8.75,-2.84L-5.41,7.44L5.41,7.44L8.75,-2.84z" transform="translate(1082.11,483.6)"/>
<path d="M0,-9.2L-8.75,-2.84L-5.41,7.44L5.41,7.44L8.75,-2.84z" transform="translate(1099.81,498.9)"/>
<path d="M0,-9.2L-8.75,-2.84L-5.41,7.44L5.41,7.44L8.75,-2.84z" transform="translate(1117.5,515)"/>
<path d="M0,-9.2L-8.75,-2.84L-5.41,7.44L5.41,7.44L8.75,-2.84z" transform="translate(1135.19,529.8)"/>
<path d="M0,-9.2L-8.75,-2.84L-5.41,7.44L5.41,7.44L8.75,-2.84z" transform="translate(1152.89,545.3)"/>
<path d="M0,-9.2L-8.75,-2.84L-5.41,7.44L5.41,7.44L8.75,-2.84z" transform="translate(1170.58,560.6)"/>
<path d="M0,-9.2L-8.75,-2.84L-5.41,7.44L5.41,7.44L8.75,-2.84z" transform="translate(1188.27,576.7)"/>
<path d="M0,-9.2L-8.75,-2.84L-5.41,7.44L5.41,7.44L8.75,-2.84z" transform="translate(1205.97,591.9)"/>
<path d="M0,-9.2L-8.75,-2.84L-5.41,7.44L5.41,7.44L8.75,-2.84z" transform="translate(1223.66,606.1)"/>
<path d="M0,-9.2L-8.75,-2.84L-5.41,7.44L5.41,7.44L8.75,-2.84z" transform="translate(1241.35,623.3)"/>
<path d="M0,-9.2L-8.75,-2.84L-5.41,7.44L5.41,7.44L8.75,-2.84z" transform="translate(1259.05,638.3)"/>
<path d="M0,-9.2L-8.75,-2.84L-5.41,7.44L5.41,7.44L8.75,-2.84z" transform="translate(1276.74,652.3)"/>
<path d="M0,-9.2L-8.75,-2.84L-5.41,7.44L5.41,7.44L8.75,-2.84z" transform="translate(1294.43,666.3)"/>
<path d="M0,-9.2L-8.75,-2.84L-5.41,7.44L5.41,7.44L8.75,-2.84z" transform="translate(1312.13,682.5)"/>
<path d="M0,-9.2L-8.75,-2.84L-5.41,7.44L5.41,7.44L8.75,-2.84z" transform="translate(1329.82,695.9)"/>
<path d="M0,-9.2L-8.75,-2.84L-5.41,7.44L5.41,7.44L8.75,-2.84z" transform="translate(1347.51,704)"/>
<path d="M0,-9.2L-8.75,-2.84L-5.41,7.44L5.41,7.44L8.75,-2.84z" transform="translate(1365.21,720.2)"/>
<path d="M0,-9.2L-8.75,-2.84L-5.41,7.44L5.41,7.44L8.75,-2.84z" transform="translate(1382.9,755.8)"/>
<path d="M0,-9.2L-8.75,-2.84L-5.41,7.44L5.41,7.44L8.75,-2.84z" transform="translate(1400.59,745.1)"/>
<path d="M0,-9.2L-8.75,-2.84L-5.41,7.44L5.41,7.44L8.75,-2.84z" transform="translate(1418.29,779.4)"/>
<path d="M0,-9.2L-8.75,-2.84L-5.41,7.44L5.41,7.44L8.75,-2.84z" transform="translate(1435.98,770.4)"/>
<path d="M0,-9.2L-8.75,-2.84L-5.41,7.44L5.41,7.44L8.75,-2.84z" transform="translate(1453.67,773.1)"/>
<path d="M0,-9.2L-8.75,-2.84L-5.41,7.44L5.41,7.44L8.75,-2.84z" transform="translate(1471.37,843.9)"/>
<path d="M0,-9.2L-8.75,-2.84L-5.41,7.44L5.41,7.44L8.75,-2.84z" transform="translate(1489.06,831.2)"/>
<path d="M0,-9.2L-8.75,-2.84L-5.41,7.44L5.41,7.44L8.75,-2.84z" transform="translate(1506.75,827.1)"/>
</g>
<line x1="984.8" y1="395.6" x2="1495.78" y2="852" stroke="#006400" stroke-width="3" clip-path="url(#k2)"/>
<g fill="#ffa500" clip-path="url(#k3)">
<path d="M0,-10.42L-9.3,4.65L9.3,4.65z" transform="translate(993.65,435.1)"/>
<path d="M0,-10.42L-9.3,4.65L9.3,4.65z" transform="translate(1011.34,460.2)"/>
<path d="M0,-10.42L-9.3,4.65L9.3,4.65z" transform="translate(1029.03,483.1)"/>
<path d="M0,-10.42L-9.3,4.65L9.3,4.65z" transform="translate(1046.73,504.5)"/>
<path d="M0,-10.42L-9.3,4.65L9.3,4.65z" transform="translate(1064.42,525.9)"/>
<path d="M0,-10.42L-9.3,4.65L9.3,4.65z" transform="translate(1082.11,545.5)"/>
<path d="M0,-10.42L-9.3,4.65L9.3,4.65z" transform="translate(1099.81,564.8)"/>
<path d="M0,-10.42L-9.3,4.65L9.3,4.65z" transform="translate(1117.5,582.2)"/>
<path d="M0,-10.42L-9.3,4.65L9.3,4.65z" transform="translate(1135.19,599.4)"/>
<path d="M0,-10.42L-9.3,4.65L9.3,4.65z" transform="translate(1152.89,617.4)"/>
<path d="M0,-10.42L-9.3,4.65L9.3,4.65z" transform="translate(1170.58,634)"/>
<path d="M0,-10.42L-9.3,4.65L9.3,4.65z" transform="translate(1188.27,650.1)"/>
<path d="M0,-10.42L-9.3,4.65L9.3,4.65z" transform="translate(1205.97,666.7)"/>
<path d="M0,-10.42L-9.3,4.65L9.3,4.65z" transform="translate(1223.66,690.6)"/>
<path d="M0,-10.42L-9.3,4.65L9.3,4.65z" transform="translate(1241.35,710.4)"/>
<path d="M0,-10.42L-9.3,4.65L9.3,4.65z" transform="translate(1259.05,717)"/>
<path d="M0,-10.42L-9.3,4.65L9.3,4.65z" transform="translate(1276.74,728.2)"/>
<path d="M0,-10.42L-9.3,4.65L9.3,4.65z" transform="translate(1294.43,737.9)"/>
<path d="M0,-10.42L-9.3,4.65L9.3,4.65z" transform="translate(1312.13,761.2)"/>
<path d="M0,-10.42L-9.3,4.65L9.3,4.65z" transform="translate(1329.82,794.5)"/>
<path d="M0,-10.42L-9.3,4.65L9.3,4.65z" transform="translate(1365.21,814.8)"/>
</g>
<line x1="984.8" y1="425.3" x2="1328.23" y2="852" stroke="#ffa500" stroke-width="3" clip-path="url(#k2)"/>
<g fill="#ff0000" clip-path="url(#k3)">
<path d="M0,-9.2L-9.2,0L0,9.2L9.2,0z" transform="translate(993.65,443)"/>
<path d="M0,-9.2L-9.2,0L0,9.2L9.2,0z" transform="translate(1011.34,472.6)"/>
<path d="M0,-9.2L-9.2,0L0,9.2L9.2,0z" transform="translate(1029.03,501.5)"/>
<path d="M0,-9.2L-9.2,0L0,9.2L9.2,0z" transform="translate(1046.73,529.5)"/>
<path d="M0,-9.2L-9.2,0L0,9.2L9.2,0z" transform="translate(1064.42,557.9)"/>
<path d="M0,-9.2L-9.2,0L0,9.2L9.2,0z" transform="translate(1082.11,585.8)"/>
<path d="M0,-9.2L-9.2,0L0,9.2L9.2,0z" transform="translate(1099.81,610.5)"/>
<path d="M0,-9.2L-9.2,0L0,9.2L9.2,0z" transform="translate(1117.5,637.4)"/>
<path d="M0,-9.2L-9.2,0L0,9.2L9.2,0z" transform="translate(1135.19,669.8)"/>
<path d="M0,-9.2L-9.2,0L0,9.2L9.2,0z" transform="translate(1152.89,698.1)"/>
<path d="M0,-9.2L-9.2,0L0,9.2L9.2,0z" transform="translate(1170.58,724)"/>
<path d="M0,-9.2L-9.2,0L0,9.2L9.2,0z" transform="translate(1188.27,763.2)"/>
<path d="M0,-9.2L-9.2,0L0,9.2L9.2,0z" transform="translate(1205.97,808.4)"/>
<path d="M0,-9.2L-9.2,0L0,9.2L9.2,0z" transform="translate(1223.66,844.5)"/>
</g>
<line x1="984.8" y1="428.4" x2="1244.72" y2="852" stroke="#ff0000" stroke-width="3" clip-path="url(#k2)"/>
</g>
<g id="legend-b-samples">
<path d="M-7.2,0a7.2,7.2 0 1,0 14.4,0a7.2,7.2 0 1,0 -14.4,0z" transform="translate(1447.8,345.7)" fill="#0000ff"/>
<path d="M-6.07,-6.07h12.14v12.14h-12.14z" transform="translate(1447.8,371)" fill="#9400d3"/>
<path d="M0,-9.2L-8.75,-2.84L-5.41,7.44L5.41,7.44L8.75,-2.84z" transform="translate(1447.8,396.1)" fill="#006400"/>
<path d="M0,-10.42L-9.3,4.65L9.3,4.65z" transform="translate(1447.8,421.4)" fill="#ffa500"/>
<path d="M0,-9.2L-9.2,0L0,9.2L9.2,0z" transform="translate(1447.8,446.7)" fill="#ff0000"/>
</g>
<g id="frames" fill="none" stroke="#000" stroke-width="3.9" stroke-linejoin="miter">
<rect x="188" y="321" width="531" height="531"/>
<rect x="984.8" y="321" width="530.8" height="531"/>
</g>
<g id="ticklabels" class="h" stroke="#000" stroke-width="0.5">
<g font-size="32.4">
<text text-anchor="end" transform="translate(172,862.5) scale(0.963,1)">0.0</text>
<text text-anchor="end" transform="translate(172,809.4) scale(0.963,1)">0.1</text>
<text text-anchor="end" transform="translate(172,756.3) scale(0.963,1)">0.2</text>
<text text-anchor="end" transform="translate(172,703.2) scale(0.963,1)">0.3</text>
<text text-anchor="end" transform="translate(172,650.1) scale(0.963,1)">0.4</text>
<text text-anchor="end" transform="translate(172,597) scale(0.963,1)">0.5</text>
<text text-anchor="end" transform="translate(172,543.9) scale(0.963,1)">0.6</text>
<text text-anchor="end" transform="translate(172,490.8) scale(0.963,1)">0.7</text>
<text text-anchor="end" transform="translate(172,437.7) scale(0.963,1)">0.8</text>
<text text-anchor="end" transform="translate(172,384.6) scale(0.963,1)">0.9</text>
<text text-anchor="end" transform="translate(172,331.5) scale(0.963,1)">1.0</text>
<text text-anchor="end" transform="translate(969,331.5) scale(0.963,1)">1.0000</text>
<text text-anchor="end" transform="translate(969,464.25) scale(0.963,1)">0.1000</text>
<text text-anchor="end" transform="translate(969,597) scale(0.963,1)">0.0100</text>
<text text-anchor="end" transform="translate(969,729.75) scale(0.963,1)">0.0010</text>
<text text-anchor="end" transform="translate(969,862.5) scale(0.963,1)">0.0001</text>
</g>
<g font-size="34">
<text text-anchor="middle" transform="translate(297.35,890.3) scale(0.973,1)">100</text>
<text text-anchor="middle" transform="translate(403.76,890.3) scale(0.973,1)">200</text>
<text text-anchor="middle" transform="translate(510.17,890.3) scale(0.973,1)">300</text>
<text text-anchor="middle" transform="translate(616.59,890.3) scale(0.973,1)">400</text>
<text text-anchor="middle" transform="translate(723,890.3) scale(0.973,1)">500</text>
<text text-anchor="middle" transform="translate(1033.03,890.3) scale(0.973,1)">50</text>
<text text-anchor="middle" transform="translate(1121.5,890.3) scale(0.973,1)">100</text>
<text text-anchor="middle" transform="translate(1209.97,890.3) scale(0.973,1)">150</text>
<text text-anchor="middle" transform="translate(1298.43,890.3) scale(0.973,1)">200</text>
<text text-anchor="middle" transform="translate(1386.9,890.3) scale(0.973,1)">250</text>
<text text-anchor="middle" transform="translate(1475.37,890.3) scale(0.973,1)">300</text>
</g>
</g>
<g id="axislabels" class="sb">
<text font-size="42.7" transform="translate(47,600.2) scale(1,1.02)">m(t)</text>
<text font-size="42.7" transform="translate(794,600.2) scale(1,1.02)">m(t)</text>
<text font-size="48.7" text-anchor="middle" transform="translate(453.7,936.6) scale(1,1.1)">t</text>
<text font-size="48.7" text-anchor="middle" transform="translate(1250.5,936.6) scale(1,1.1)">t</text>
<text font-size="33.4" transform="translate(762.5,863.4) scale(1.05,1)">(a)</text>
<text font-size="33.4" transform="translate(1558,863.4) scale(1.05,1)">(b)</text>
</g>
</svg>
</body></html>
